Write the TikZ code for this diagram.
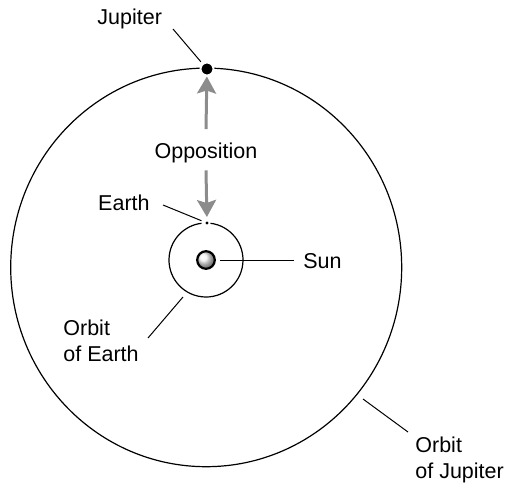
\documentclass[tikz,border=0pt]{standalone}
\usepackage{fontspec}
\setmainfont{Liberation Sans}
\usetikzlibrary{arrows.meta}
\definecolor{oppgray}{gray}{0.55}

\begin{document}
\begin{tikzpicture}[x=0.5pt,y=-0.5pt,>={Stealth[length=8.5pt,width=9.5pt,inset=1.5pt]}]
  \tikzstyle{lbl}=[inner sep=0pt,font=\fontsize{10.75}{13}\selectfont,align=left]
  \tikzstyle{lead}=[line width=0.5pt]
  \tikzstyle{opp}=[->,draw=oppgray,line width=1.5pt]
  \useasboundingbox (0,0) rectangle (505,483);

  % orbits
  \draw[line width=0.6pt] (206.2,267.4) ellipse [x radius=195.5, y radius=199.3];
  \draw[line width=0.6pt] (206,260) ++(277:37) arc [start angle=277, end angle=623, radius=37];

  % bodies
  \node[circle,fill=black,draw=white,line width=1pt,inner sep=0pt,minimum size=6.5pt] (jup) at (207,69) {};
  \node[circle,fill=black,inner sep=0pt,minimum size=1.6pt] (earth) at (207,223) {};
  \node[circle,draw=black,line width=1.1pt,ball color=gray!12,inner sep=0pt,minimum size=8.8pt] (sun) at (206,260) {};

  % opposition
  \node[lbl,anchor=base] (opp) at (206,158) {Opposition};
  \draw[opp] ([yshift=6.5pt]opp.north) -- (jup);
  \draw[opp,shorten >=2pt] ([yshift=-3.75pt]opp.south) -- (earth);

  % labels and leaders
  \node[lbl,anchor=base west] (jlbl) at (97,24) {Jupiter};
  \coordinate (jl) at (173,29);
  \draw[lead,shorten >=1pt] (jl) -- (jup);

  \node[lbl,anchor=base east] (elbl) at (150,210) {Earth};
  \coordinate (el) at (163,205);
  \draw[lead,shorten >=2pt] (el) -- (earth);

  \node[lbl,anchor=base west] (slbl) at (303,268) {Sun};
  \coordinate (sl) at (294,260);
  \draw[lead,shorten <=2pt] (sun) -- (sl);

  \node[lbl,anchor=base west] (oelbl) at (63,361) {Orbit\\of Earth};
  \coordinate (oe1) at (183,297);
  \coordinate (oe2) at (148,338);
  \draw[lead] (oe1) -- (oe2);

  \node[lbl,anchor=base west] (ojlbl) at (415,478) {Orbit\\of Jupiter};
  \coordinate (oj1) at (363,399);
  \coordinate (oj2) at (408,432);
  \draw[lead] (oj1) -- (oj2);
\end{tikzpicture}
\end{document}
